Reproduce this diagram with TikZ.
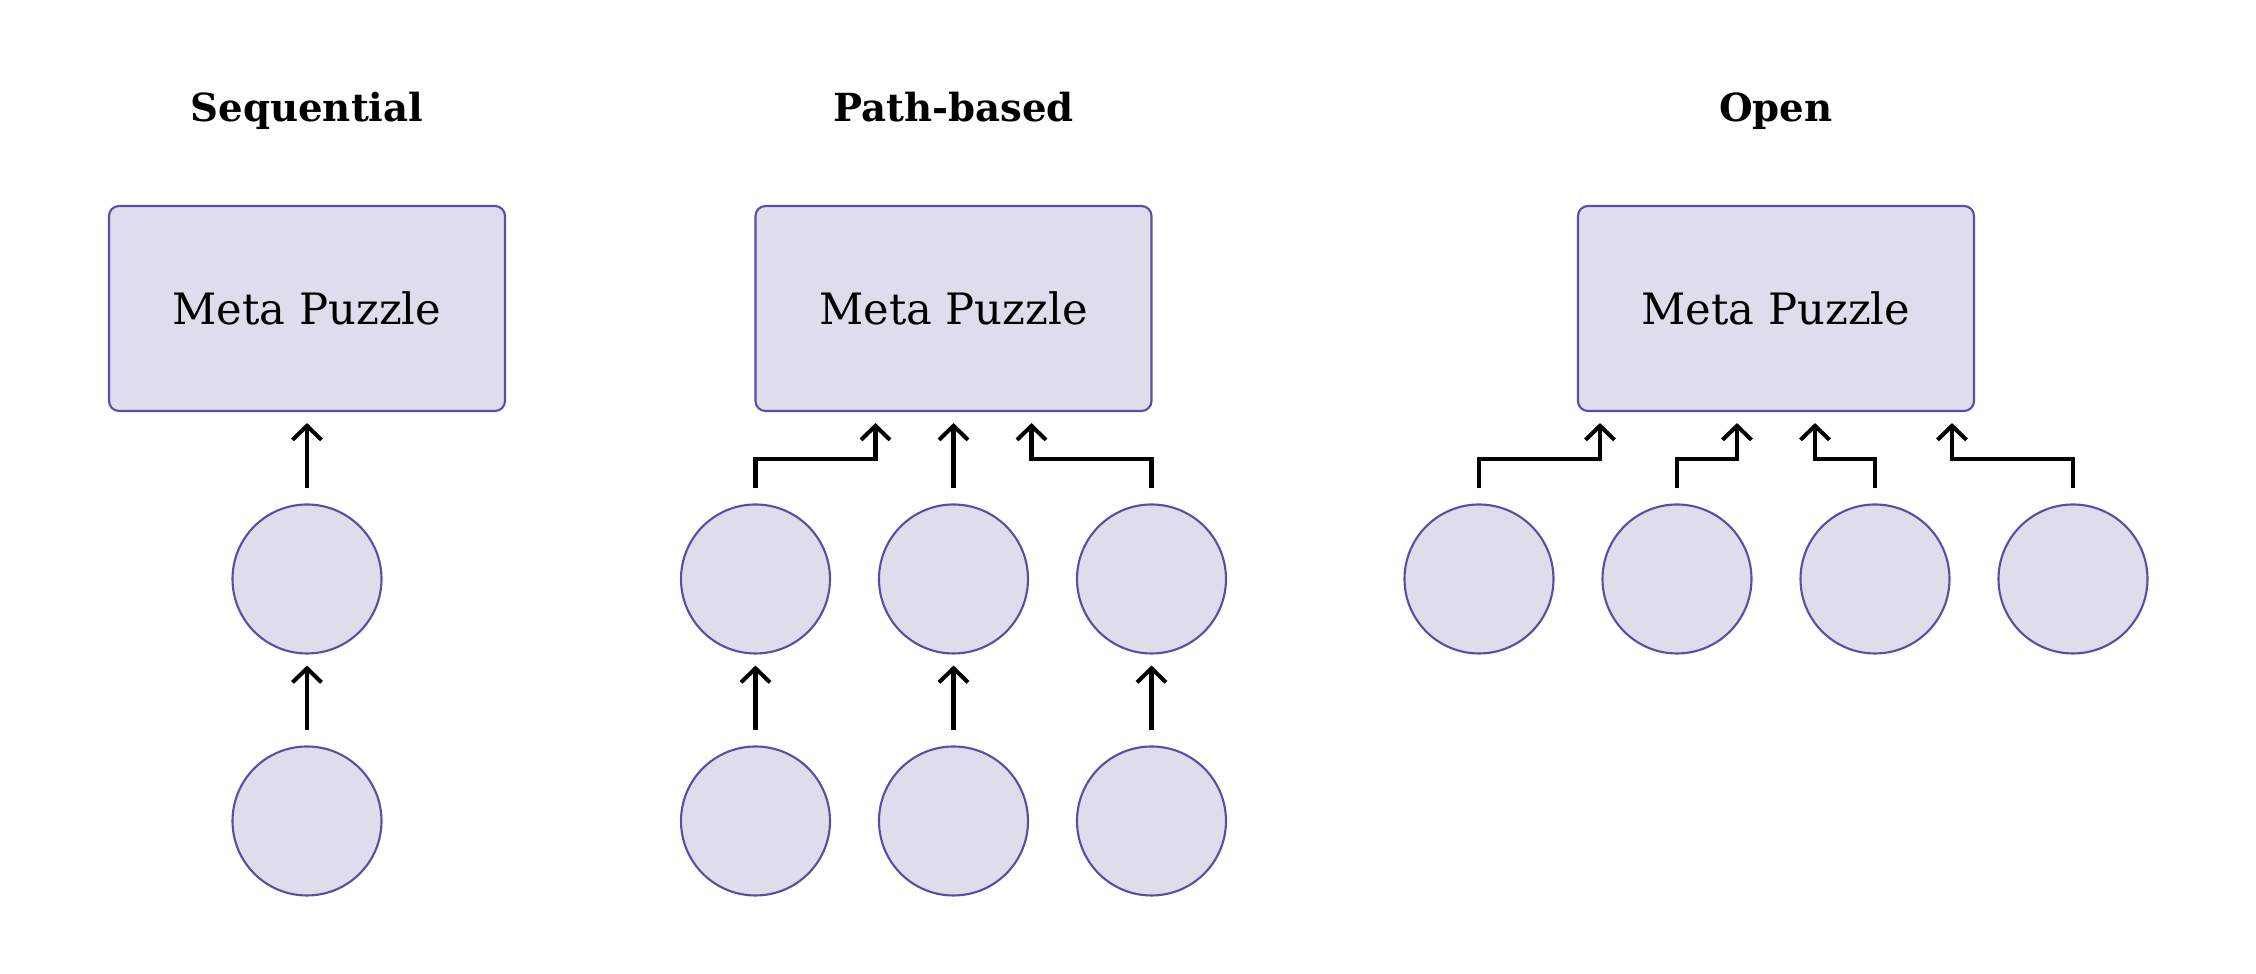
\documentclass[tikz,border=0pt]{standalone}
\usepackage{fontspec}
\setmainfont{DejaVu Serif}
\usetikzlibrary{arrows.meta}
\definecolor{puzfill}{HTML}{DFDCEB}
\definecolor{puzline}{HTML}{5B4DA3}

\begin{document}
\begin{tikzpicture}
  [meta/.style={draw=puzline, fill=puzfill, line width=0.6pt, rounded corners=0.1cm,
     minimum width=3.96cm, minimum height=2.05cm, font=\fontsize{12.3}{14}\selectfont},
   piece/.style={draw=puzline, fill=puzfill, line width=0.6pt, circle,
     minimum size=1.49cm, inner sep=0pt},
   title/.style={anchor=base, font=\bfseries\fontsize{11}{13}\selectfont},
   link/.style={-{Straight Barb[length=1.4mm,width=2.9mm]}, line width=1.15pt,
     shorten <=1.5mm, shorten >=1.1mm}]
  \useasboundingbox (0,0) rectangle (22.56,-9.74);

  \node[title] (tseq) at (3.07, -1.22) {Sequential};
  \node[title] (tpath) at (9.535, -1.22) {Path-based};
  \node[title] (topen) at (17.76, -1.22) {Open};

  \node[meta] (sm) at (3.07, -3.085) {Meta Puzzle};
  \node[meta] (pm) at (9.535, -3.085) {Meta Puzzle};
  \node[meta] (om) at (17.76, -3.085) {Meta Puzzle};

  \node[piece] (s1) at (3.07, -5.79) {};
  \node[piece] (s2) at (3.07, -8.21) {};
  \node[piece] (p1) at (7.555, -5.79) {};
  \node[piece] (p2) at (9.535, -5.79) {};
  \node[piece] (p3) at (11.515, -5.79) {};
  \node[piece] (p4) at (7.555, -8.21) {};
  \node[piece] (p5) at (9.535, -8.21) {};
  \node[piece] (p6) at (11.515, -8.21) {};
  \node[piece] (o1) at (14.79, -5.79) {};
  \node[piece] (o2) at (16.77, -5.79) {};
  \node[piece] (o3) at (18.75, -5.79) {};
  \node[piece] (o4) at (20.73, -5.79) {};

  \foreach \from/\to in {s1/sm,s2/s1,p2/pm,p4/p1,p5/p2,p6/p3}
  \draw[link] (\from) -- (\to);
  \foreach \from/\dx/\to in {p1/-0.78/pm,p3/0.78/pm,o1/-1.76/om,o2/-0.39/om,o3/0.39/om,o4/1.76/om}
  \draw[link] (\from.north) -- ++(0, 0.44) -| ([xshift=\dx cm]\to.south);
\end{tikzpicture}
\end{document}
